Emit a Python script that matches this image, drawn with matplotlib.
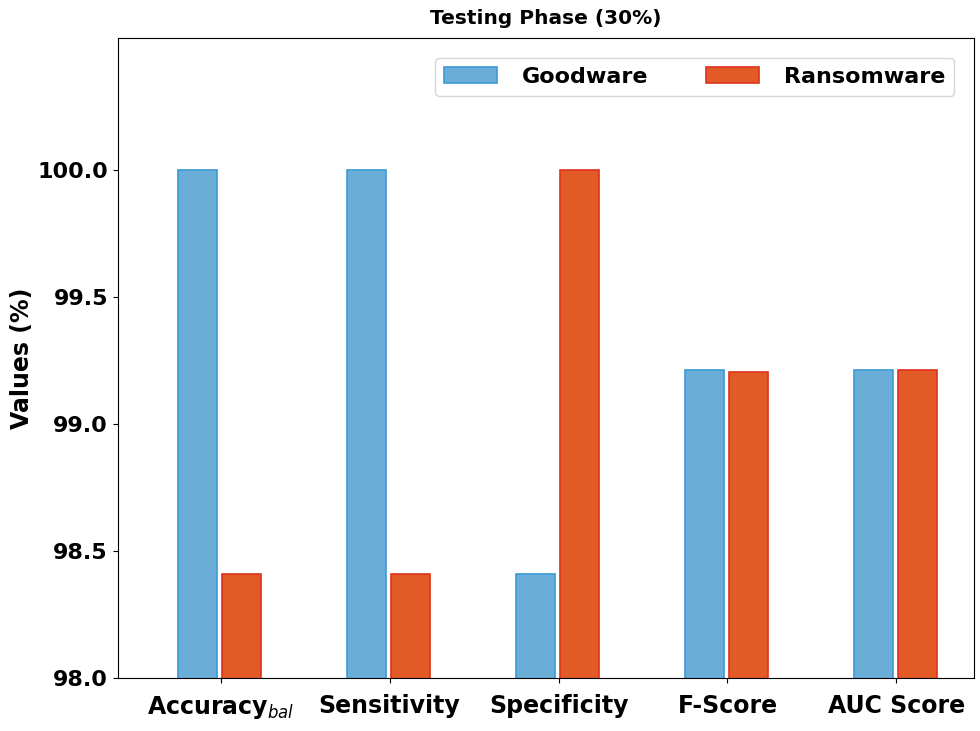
import numpy as np
import matplotlib.pyplot as plt

metrics = [r'Accuracy$_{bal}$', 'Sensitivity', 'Specificity', 'F-Score', 'AUC Score']
goodware = [100.0, 100.0, 98.41, 99.214, 99.214]
ransomware = [98.41, 98.41, 100.0, 99.206, 99.214]

x = np.arange(len(metrics))
w = 0.23

fig, ax = plt.subplots(figsize=(9.8, 7.31), dpi=100)
fig.subplots_adjust(left=0.12, right=0.994, top=0.948, bottom=0.073)

ax.bar(x - 0.135, goodware, w, color='#6aaed8', edgecolor='#3a9ad6', linewidth=1.2, label='Goodware')
ax.bar(x + 0.125, ransomware, w, color='#e25a26', edgecolor='#e0321e', linewidth=1.2, label='Ransomware')

ax.set_ylim(98.0, 100.52)
ax.set_xlim(-0.61, 4.46)
ax.set_yticks([98.0, 98.5, 99.0, 99.5, 100.0])
ax.set_xticks(x)
ax.set_xticklabels(metrics, fontsize=17, fontweight='bold')
ax.tick_params(axis='x', pad=8)
for t in ax.get_yticklabels():
    t.set_fontsize(16)
    t.set_fontweight('bold')
ax.set_ylabel('Values (%)', fontsize=17, fontweight='bold', labelpad=2)
ax.set_title('Testing Phase (30%)', fontsize=14.5, fontweight='bold', pad=10)
leg = ax.legend(loc='upper right', ncol=2, prop={'weight': 'bold', 'size': 16},
                handlelength=2.4, columnspacing=2.6, handletextpad=1.1,
                borderaxespad=0.9)

plt.savefig('out.png', dpi=100)
